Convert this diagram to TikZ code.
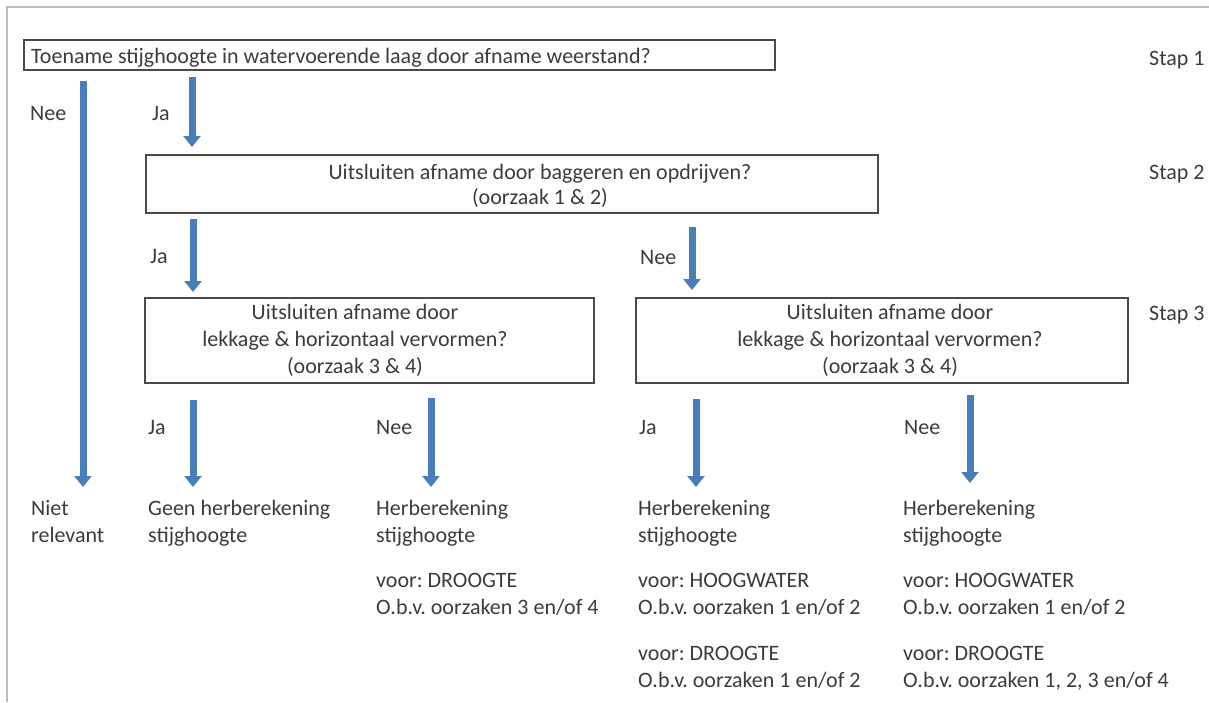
\documentclass[tikz,border=0pt]{standalone}
\usepackage{fontspec}
\setmainfont{Carlito}
\frenchspacing
\usetikzlibrary{arrows.meta}
\definecolor{txtc}{HTML}{3C3C3C}
\definecolor{boxc}{HTML}{4A4A4A}
\definecolor{arrc}{HTML}{4A7EBB}
\definecolor{framec}{HTML}{BDBDBD}
\begin{document}
\begin{tikzpicture}[x=1pt,y=-1pt,
  every node/.style={text=txtc,font=\fontsize{22}{27}\selectfont,inner sep=0pt},
  lbl/.style={anchor=base west},
  mid/.style={anchor=base,align=center},
  boxn/.style={draw=boxc,line width=1.8pt,rectangle,inner sep=0pt},
  arr/.style={draw=arrc,line width=7pt,-{Triangle[width=17pt,length=11pt]}},
  frame/.style={draw=framec,line width=1.5pt}]
\useasboundingbox (0,0) rectangle (1209,702);
\fill[white] (0,0) rectangle (1209,702);
% frame lines
\coordinate (f1) at (7,702);
\coordinate (f2) at (7,7);
\coordinate (f3) at (1209,7);
\draw[frame] (f1) -- (f2) -- (f3);

% boxes
\node[boxn,minimum width=751pt,minimum height=30pt] (b1) at (399.5,55) {};
\node[boxn,minimum width=732pt,minimum height=58pt] (b2) at (512,184) {};
\node[boxn,minimum width=449pt,minimum height=85pt] (b3) at (369.5,340.5) {};
\node[boxn,minimum width=492pt,minimum height=85pt] (b4) at (882,340.5) {};

% box texts (base anchor = baseline of last line)
\node[lbl] (t1) at (31,63) {Toename stijghoogte in watervoerende laag door afname weerstand?};
\node[mid,font=\fontsize{22}{25}\selectfont] (t2) at (540,204) {Uitsluiten afname door baggeren en opdrijven?\\(oorzaak 1 \& 2)};
\node[mid] (t3) at (355,373) {Uitsluiten afname door\\lekkage \& horizontaal vervormen?\\(oorzaak 3 \& 4)};
\node[mid] (t4) at (890,373) {Uitsluiten afname door\\lekkage \& horizontaal vervormen?\\(oorzaak 3 \& 4)};

% steps
\node[lbl] (s1) at (1149,65) {Stap 1};
\node[lbl] (s2) at (1149,179) {Stap 2};
\node[lbl] (s3) at (1149,320) {Stap 3};

% arrows
\coordinate (a0s) at (83,81);  \coordinate (a0e) at (83,487);
\coordinate (a1s) at (192,77); \coordinate (a1e) at (192,147);
\coordinate (a2s) at (193,219); \coordinate (a2e) at (193,292);
\coordinate (a3s) at (692,227); \coordinate (a3e) at (692,290);
\coordinate (a4s) at (193,400); \coordinate (a4e) at (193,487);
\coordinate (a5s) at (431,398); \coordinate (a5e) at (431,487);
\coordinate (a6s) at (696,399); \coordinate (a6e) at (696,487);
\coordinate (a7s) at (970,395); \coordinate (a7e) at (970,483);
\foreach \i in {0,...,7} {\draw[arr] (a\i s) -- (a\i e);}

% arrow labels
\node[lbl] (l0) at (30,120) {Nee};
\node[lbl] (l1) at (152,120) {Ja};
\node[lbl] (l2) at (150,263) {Ja};
\node[lbl] (l3) at (640,264) {Nee};
\node[lbl] (l4) at (148,434) {Ja};
\node[lbl] (l5) at (376,434) {Nee};
\node[lbl] (l6) at (639,434) {Ja};
\node[lbl] (l7) at (904,434) {Nee};

% outcomes (base anchor = baseline of last line)
\node[lbl,align=left] (o1) at (31,542) {Niet\\relevant};
\node[lbl,align=left] (o2) at (148,542) {Geen herberekening\\stijghoogte};
\node[lbl,align=left] (o3) at (376,542) {Herberekening\\stijghoogte};
\node[lbl,align=left] (o3a) at (376,614) {voor: DROOGTE\\O.b.v. oorzaken 3 en/of 4};
\node[lbl,align=left] (o4) at (638,542) {Herberekening\\stijghoogte};
\node[lbl,align=left] (o4a) at (638,614) {voor: HOOGWATER\\O.b.v. oorzaken 1 en/of 2};
\node[lbl,align=left] (o4b) at (638,687) {voor: DROOGTE\\O.b.v. oorzaken 1 en/of 2};
\node[lbl,align=left] (o5) at (903,542) {Herberekening\\stijghoogte};
\node[lbl,align=left] (o5a) at (903,614) {voor: HOOGWATER\\O.b.v. oorzaken 1 en/of 2};
\node[lbl,align=left] (o5b) at (903,687) {voor: DROOGTE\\O.b.v. oorzaken 1, 2, 3 en/of 4};
\end{tikzpicture}
\end{document}
